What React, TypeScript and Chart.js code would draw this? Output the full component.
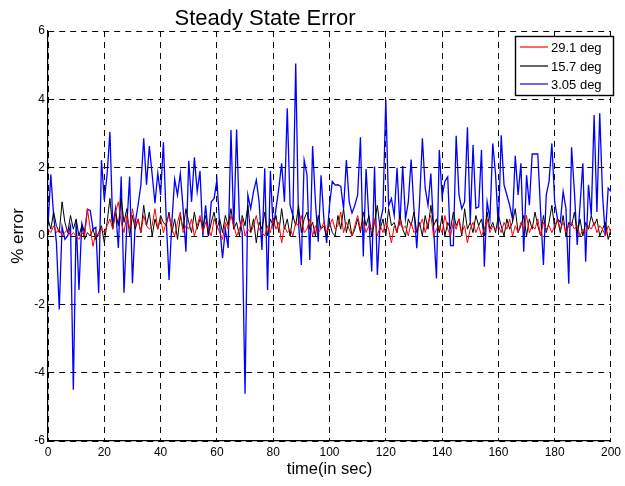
import React, { useEffect, useRef } from "react";
import { Chart, registerables } from "chart.js";

Chart.register(...registerables);

const TITLE = "Steady State Error";
const X_LABEL = "time(in sec)";
const Y_LABEL = "% error";
const SERIES_NAMES = ["29.1 deg", "15.7 deg", "3.05 deg"];
const SERIES_COLORS = ["#ff0000", "#000000", "#0000ff"];
const SERIES_WIDTHS = [1, 1, 1.3];

const TIME = Array.from({ length: 201 }, (_, i) => i);

const RED = [
  0.2, 0.1, 0.3, 0.1, 0.2, 0.0, 0.1, 0.2, 0.0, 0.1,
  0.0, -0.1, 0.1, 0.0, 0.8, 0.2, -0.3, 0.1, 0.0, 0.2,
  0.1, 0.3, 0.5, 0.2, 0.7, 1.0, 0.4, 0.1, 0.6, 0.2,
  0.8, 0.3, 0.5, 0.1, 0.6, 0.3, 0.2, 0.3, 0.8, 0.2,
  0.5, 0.1, 0.4, 0.6, 0.2, 0.0, 0.4, 0.7, 0.1, 0.3,
  0.2, 0.5, 0.0, 0.3, 0.6, 0.1, 0.4, 0.2, 0.0, 0.5,
  0.3, 0.1, -0.1, 0.4, 0.2, 0.6, 0.3, 0.0, 0.2, 0.5,
  0.0, 0.2, 0.1, 0.3, 0.6, 0.2, 0.1, 0.0, 0.3, 0.1,
  0.5, 0.2, 0.4, -0.2, 0.3, 0.1, 0.2, 0.0, 0.4, 0.3,
  0.6, 0.1, 0.2, 0.5, 0.0, 0.3, 0.1, 0.2, 0.4, 0.1,
  0.3, 0.5, 0.2, 0.3, 0.7, 0.1, 0.4, 0.2, 0.0, 0.3,
  0.6, 0.2, 0.4, 0.1, 0.3, 0.2, 0.5, 0.0, 0.3, 0.1,
  0.4, 0.2, -0.2, 0.3, 0.1, 0.5, 0.2, 0.3, 0.0, 0.4,
  0.1, 0.2, 0.3, 0.5, 0.1, 0.4, 0.6, 0.0, 0.2, 0.3,
  0.1, 0.6, 0.2, 0.0, 0.4, 0.2, 0.5, 0.1, 0.3, -0.2,
  0.2, 0.4, 0.1, 0.3, 0.0, 0.2, 0.5, 0.1, 0.3, 0.2,
  0.3, 0.1, 0.4, 0.2, 0.5, 0.0, 0.3, 0.1, 0.4, 0.2,
  0.6, 0.1, 0.3, 0.2, 0.5, 0.0, 0.4, 0.2, 0.3, 0.1,
  0.3, 0.5, 0.2, 0.4, 0.1, 0.3, 0.4, 0.2, 0.3, 0.0,
  0.2, 0.1, 0.3, 0.2, 0.4, 0.1, 0.3, 0.2, 0.0, 0.3,
  0.1,
];

const BLACK = [
  0.5, 0.2, 0.7, 0.3, 0.1, 1.0, 0.4, 0.1, 0.6, 0.2,
  0.5, 0.0, 0.3, -0.1, 0.1, 0.0, 0.2, -0.1, 0.1, 0.3,
  -0.2, 0.4, 1.1, 0.2, 0.7, 0.3, 1.1, 0.4, 0.8, 0.0,
  0.6, 0.2, 0.5, 0.1, 0.9, 0.3, 0.7, 0.0, 0.5, 0.2,
  0.6, 0.4, 0.3, 0.7, 0.1, 0.5, -0.1, 0.6, 0.2, 0.8,
  0.4, 0.1, 0.7, 0.2, 0.5, 0.3, 0.6, 0.0, 0.4, 0.7,
  0.2, 0.5, 0.1, 0.6, 0.3, 0.8, 0.2, 0.4, 0.0, 0.6,
  0.3, 0.9, 0.1, 0.5, -0.2, 0.4, 0.2, 0.7, 0.0, 0.5,
  0.3, 0.6, 0.1, 0.8, 0.2, 0.5, 0.0, 0.6, 0.3, 0.9,
  0.1, 0.5, 0.7, 0.2, 0.4, 0.0, 0.6, 0.2, 0.3, 0.0,
  0.4, 0.1, 0.0, 0.6, 0.2, 0.8, 0.1, 0.5, 0.0, 0.2,
  0.5, 0.1, 0.7, 0.3, 0.6, 0.0, 0.4, 0.9, 0.2, 0.5,
  0.0, 0.8, 0.3, 0.4, 0.1, 0.6, 0.2, 0.0, 0.5, 0.3,
  0.7, 0.1, 0.4, 0.0, 0.6, 0.2, 0.9, 0.3, 0.5, 0.1,
  0.6, 0.0, 0.4, 0.2, 0.7, 0.3, 0.5, 0.0, 0.8, 0.2,
  0.4, 0.1, 0.6, 0.3, 0.5, 0.0, 0.7, 0.2, 0.4, 0.1,
  0.6, 0.3, 0.0, 0.5, 0.2, 0.4, 0.8, 0.1, 0.3, 0.6,
  0.0, 0.5, 0.2, 0.7, 0.3, 0.0, 0.6, 0.1, 0.4, 0.9,
  0.2, 0.5, 0.1, 0.6, 0.0, 0.4, 0.3, 0.7, 0.1, 0.5,
  0.0, 0.4, 0.2, 0.6, 0.3, 0.5, 0.0, 0.2, 0.4, -0.1,
  0.2,
];

const BLUE = [
  0.3, 1.8, 0.6, -0.2, -2.15, 0.27, -0.1, 0.0, 0.3, -4.5,
  0.47, -1.58, 0.37, 0.1, 0.78, 0.75, 0.2, 0.25, -1.67, 2.22,
  1.05, 1.8, 3.05, 0.3, 0.8, -0.35, 1.74, -1.66, 0.3, 1.74,
  -1.38, 0.4, 0.9, 1.5, 2.86, 1.5, 2.63, 1.8, 0.96, 1.84,
  1.2, 2.74, 0.5, -1.29, 0.4, 1.66, 1.2, 1.83, 0.8, -0.46,
  2.2, 1.0, 2.3, 1.3, 1.9, 0.0, 0.9, 0.0, 1.0, 1.1,
  1.64, 0.3, -0.65, 0.2, -0.35, 3.1, 0.2, 3.12, 0.5, 0.1,
  -4.62, 1.2, 0.8, 1.3, 1.64, 1.0, -0.41, 1.98, -1.58, 1.9,
  0.2, 0.8, 1.4, 2.13, 1.0, 3.74, 0.9, 0.6, 5.05, 0.4,
  -0.85, 2.22, 1.8, -0.7, 2.63, 1.0, -0.17, 1.78, 0.5, -0.2,
  0.9, 1.6, 1.49, 1.5, 1.45, 0.8, 2.22, 1.0, 0.67, 0.9,
  1.2, 2.89, -0.6, 1.96, 0.5, -1.04, 2.03, -1.14, 0.4, 0.8,
  4.0, 0.88, 1.1, 0.6, 2.0, 0.3, 2.05, 0.5, 1.0, 2.24,
  0.8, -0.36, 1.0, 2.86, 1.4, 0.9, 1.83, 0.2, -1.24, 2.52,
  1.15, 1.6, 1.73, -0.28, -0.28, 2.93, 1.2, 0.8, 1.0, 3.18,
  0.4, 2.66, 0.81, 0.85, 2.52, -0.9, 1.0, 0.5, 2.71, 1.8,
  0.2, 2.95, 1.5, 1.2, 0.9, 0.5, 2.35, 1.2, 2.13, -0.46,
  1.78, 0.9, 2.4, 2.4, 2.4, 0.7, -0.85, 1.2, 1.6, 2.71,
  1.0, 0.5, 0.4, 1.3, 0.8, -1.4, 2.6, 1.3, -0.26, 0.9,
  2.13, -0.75, 1.5, 0.6, 3.54, 0.7, 3.59, 1.2, 0.0, 1.4,
  1.3,
];

const X_MIN = 0;
const X_MAX = 200;
const X_STEP = 20;
const Y_MIN = -6;
const Y_MAX = 6;
const Y_STEP = 2;

const FONT = '"Liberation Sans", Arial, Helvetica, sans-serif';

const overlayPlugin = {
  id: "overlay",
  afterDraw(chart: any) {
    const { ctx, chartArea } = chart;
    ctx.save();
    ctx.fillStyle = "#000";
    ctx.font = `22px ${FONT}`;
    ctx.textAlign = "center";
    ctx.textBaseline = "alphabetic";
    ctx.fillText(TITLE, 265, 25);
    ctx.font = `16.5px ${FONT}`;
    ctx.textBaseline = "middle";
    ctx.fillText(X_LABEL, (chartArea.left + chartArea.right) / 2, 469);
    ctx.save();
    ctx.translate(18, (chartArea.top + chartArea.bottom) / 2);
    ctx.rotate(-Math.PI / 2);
    ctx.font = `17px ${FONT}`;
    ctx.fillText(Y_LABEL, 0, 0);
    ctx.restore();
    // legend
    const bx = 515, by = 36, bw = 99, bh = 60;
    ctx.fillStyle = "#fff";
    ctx.fillRect(bx, by, bw, bh);
    ctx.strokeStyle = "#000";
    ctx.lineWidth = 1.4;
    ctx.strokeRect(bx + 0.5, by + 0.5, bw - 1, bh - 1);
    ctx.font = `13px ${FONT}`;
    ctx.textAlign = "left";
    ctx.textBaseline = "middle";
    const ys = [47, 66, 84];
    SERIES_NAMES.forEach((name, i) => {
      ctx.strokeStyle = SERIES_COLORS[i];
      ctx.lineWidth = 1.2;
      ctx.beginPath();
      ctx.moveTo(520, ys[i]);
      ctx.lineTo(548, ys[i]);
      ctx.stroke();
      ctx.fillStyle = "#000";
      ctx.fillText(name, 551, ys[i] + 1);
    });
    ctx.restore();
  },
};

export default function App() {
  const ref = useRef<HTMLCanvasElement | null>(null);
  useEffect(() => {
    if (!ref.current) return;
    const mk = (data: number[], i: number) => ({
      label: SERIES_NAMES[i],
      data,
      borderColor: SERIES_COLORS[i],
      backgroundColor: SERIES_COLORS[i],
      borderWidth: SERIES_WIDTHS[i],
      pointRadius: 0,
      tension: 0,
      fill: false,
    });
    const chart = new Chart(ref.current, {
      type: "line",
      data: {
        labels: TIME,
        datasets: [mk(RED, 0), mk(BLACK, 1), mk(BLUE, 2)],
      },
      options: {
        animation: false,
        responsive: false,
        devicePixelRatio: 1,
        layout: { padding: { left: 0, top: 31, right: 11, bottom: 0 } },
        plugins: {
          legend: { display: false },
          title: { display: false },
          tooltip: { enabled: false },
        },
        scales: {
          x: {
            type: "linear",
            min: X_MIN,
            max: X_MAX,
            afterFit: (s: any) => {
              s.height = 45;
            },
            ticks: {
              stepSize: X_STEP,
              color: "#000",
              font: { family: FONT, size: 12 },
              padding: 4,
              maxRotation: 0,
            },
            grid: { color: "#000", lineWidth: 1, drawTicks: false },
            border: { display: true, color: "#000", width: 1.2, dash: [6, 5] },
          },
          y: {
            type: "linear",
            min: Y_MIN,
            max: Y_MAX,
            afterFit: (s: any) => {
              s.width = 48;
            },
            ticks: {
              stepSize: Y_STEP,
              color: "#000",
              font: { family: FONT, size: 12 },
              padding: 3,
            },
            grid: { color: "#000", lineWidth: 1, drawTicks: false },
            border: { display: true, color: "#000", width: 1.2, dash: [6, 5] },
          },
        },
      },
      plugins: [overlayPlugin],
    } as any);
    return () => chart.destroy();
  }, []);
  return (
    <div style={{ position: "fixed", left: 0, top: 0, width: 625, height: 486, background: "#fff" }}>
      <canvas ref={ref} width={625} height={486} style={{ display: "block" }} />
    </div>
  );
}
